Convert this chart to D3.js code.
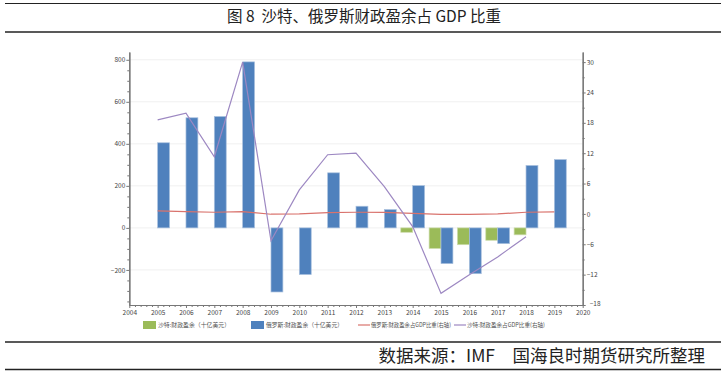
<!DOCTYPE html>
<html>
<head>
<meta charset="utf-8">
<script src="https://cdn.jsdelivr.net/npm/d3@7/dist/d3.min.js"></script>
<style>
  body { margin: 0; background: #fff; }
  svg text { font-family: "Noto Sans CJK SC", "Noto Sans", sans-serif; }
</style>
</head>
<body>
<div id="graphe"></div>
<script>
//----------------------------------------------------------------
// données
var annees = [2005, 2006, 2007, 2008, 2009, 2010, 2011, 2012, 2013, 2014, 2015, 2016, 2017, 2018, 2019];
// solde budgétaire (milliards USD)
var soldeSaoudite = [null, null, null, null, null, null, null, null, null, -21, -98, -80, -59, -33, null];
var soldeRussie = [405, 524, 530, 790, -305, -222, 262, 103, 87, 201, -170, -218, -75, 297, 325];
// solde en % du PIB (axe droit)
var pctRussie = [0.6, 0.45, 0.33, 0.45, -0.06, 0, 0.26, 0.33, 0.3, 0.1, -0.1, -0.1, 0, 0.33, 0.4];
var pctSaoudite = [18.6, 19.9, 11.3, 30.0, -5.3, 4.75, 11.7, 12.0, 5.4, -2.5, -15.7, -12.0, -8.5, -4.5, null];

var ticksGauche = [-200, 0, 200, 400, 600, 800];
var ticksDroite = [-18, -12, -6, 0, 6, 12, 18, 24, 30];
var ticksAnnees = d3.range(2004, 2021);

var titre = "图 8\u00a0\u00a0沙特、俄罗斯财政盈余占 GDP 比重";
var source = "数据来源：IMF　国海良时期货研究所整理";
var legendes = ["沙特:财政盈余（十亿美元）", "俄罗斯:财政盈余（十亿美元）",
                "俄罗斯:财政盈余占GDP比重(右轴)", "沙特:财政盈余占GDP比重(右轴)"];

//----------------------------------------------------------------
// crée le svg
var largeur = 726, hauteur = 375;
var svg = d3.select("#graphe")
  .append("svg")
  .attr("width", largeur)
  .attr("height", hauteur);

var gauche = 129.3, droite = 582.7, haut = 52, bas = 305;

var x = d3.scaleLinear().domain([2004, 2020]).range([gauche, droite]);
var yG = d3.scaleLinear().domain([-367, 837]).range([bas, haut]);
var yD = d3.scaleLinear().domain([-18, 32]).range([bas, haut]);
var pas = x(2005) - x(2004);
var largeurBarre = pas * 0.42;

var couleurVert = "#9bbb59", couleurBleu = "#4f81bd";
var couleurRouge = "#d9736d", couleurViolet = "#9d88c2";

//----------------------------------------------------------------
// titre et filets
svg.append("line").attr("x1", 5).attr("x2", 721).attr("y1", 3.5).attr("y2", 3.5)
  .attr("stroke", "#222").attr("stroke-width", 1.2);
svg.append("line").attr("x1", 5).attr("x2", 721).attr("y1", 32).attr("y2", 32)
  .attr("stroke", "#222").attr("stroke-width", 1.5);
svg.append("text")
  .attr("x", 364).attr("y", 22)
  .attr("text-anchor", "middle")
  .attr("font-size", "15.5px")
  .attr("fill", "#222")
  .text(titre);

svg.append("line").attr("x1", 5).attr("x2", 721).attr("y1", 342).attr("y2", 342)
  .attr("stroke", "#222").attr("stroke-width", 1.3);
svg.append("line").attr("x1", 5).attr("x2", 721).attr("y1", 369.5).attr("y2", 369.5)
  .attr("stroke", "#222").attr("stroke-width", 1.3);
svg.append("text")
  .attr("x", 705).attr("y", 362)
  .attr("text-anchor", "end")
  .attr("font-size", "17.5px")
  .attr("fill", "#222")
  .text(source);

//----------------------------------------------------------------
// grille
svg.append("g").selectAll("line")
  .data(ticksGauche)
  .enter().append("line")
  .attr("x1", gauche).attr("x2", droite)
  .attr("y1", function(d){ return yG(d); })
  .attr("y2", function(d){ return yG(d); })
  .attr("stroke", "#f0f0f0")
  .attr("stroke-width", 1);

//----------------------------------------------------------------
// barres
var donneesBarres = [];
annees.forEach(function(a, i){
  if (soldeSaoudite[i] !== null) donneesBarres.push({annee: a, v: soldeSaoudite[i], pays: "sa"});
  if (soldeRussie[i] !== null) donneesBarres.push({annee: a, v: soldeRussie[i], pays: "ru"});
});

svg.append("g").selectAll("rect")
  .data(donneesBarres)
  .enter().append("rect")
  .attr("x", function(d){ return d.pays == "sa" ? x(d.annee) - largeurBarre : x(d.annee); })
  .attr("width", largeurBarre)
  .attr("y", function(d){ return yG(Math.max(0, d.v)); })
  .attr("height", function(d){ return Math.abs(yG(d.v) - yG(0)); })
  .attr("fill", function(d){ return d.pays == "sa" ? couleurVert : couleurBleu; })
  .attr("stroke", function(d){ return d.pays == "sa" ? "#cddcad" : "#a9c0de"; })
  .attr("stroke-width", 0.7);

//----------------------------------------------------------------
// courbes (axe droit)
var ligne = d3.line()
  .defined(function(d){ return d[1] !== null; })
  .x(function(d){ return x(d[0]); })
  .y(function(d){ return yD(d[1]); });

svg.append("path")
  .datum(annees.map(function(a, i){ return [a, pctRussie[i]]; }))
  .attr("d", ligne)
  .attr("fill", "none")
  .attr("stroke", couleurRouge)
  .attr("stroke-width", 1.2);

svg.append("path")
  .datum(annees.map(function(a, i){ return [a, pctSaoudite[i]]; }))
  .attr("d", ligne)
  .attr("fill", "none")
  .attr("stroke", couleurViolet)
  .attr("stroke-width", 1.2);

//----------------------------------------------------------------
// axes
function styleAxe(g){
  g.selectAll(".domain").attr("stroke", "#777").attr("stroke-width", 1.2);
  g.selectAll(".tick line").attr("stroke", "#777");
  g.selectAll("text").attr("font-size", "6.5px").attr("fill", "#444");
}

var mineursGauche = d3.range(-350, 837, 50).filter(function(v){ return ticksGauche.indexOf(v) < 0; });
svg.append("g").attr("transform", "translate(" + gauche + ",0)")
  .call(d3.axisLeft(yG).tickValues(mineursGauche).tickSize(2).tickFormat("").tickSizeOuter(0))
  .call(styleAxe);
svg.append("g").attr("transform", "translate(" + gauche + ",0)")
  .call(d3.axisLeft(yG).tickValues(ticksGauche).tickSize(3).tickPadding(1).tickSizeOuter(0))
  .call(styleAxe);

var mineursDroite = d3.range(-15, 32, 6);
svg.append("g").attr("transform", "translate(" + droite + ",0)")
  .call(d3.axisRight(yD).tickValues(mineursDroite).tickSize(2).tickFormat("").tickSizeOuter(0))
  .call(styleAxe);
var axeDroit = svg.append("g").attr("transform", "translate(" + droite + ",0)")
  .call(d3.axisRight(yD).tickValues(ticksDroite).tickSize(3).tickPadding(1).tickSizeOuter(0))
  .call(styleAxe);
// le -18 se décale un peu pour ne pas toucher 2020
axeDroit.selectAll(".tick text").filter(function(d){ return d == -18; })
  .attr("x", 7).attr("dy", "0.1em");

var mineursX = d3.range(2004, 2020.01, 0.2).filter(function(v){ return Math.abs(v - Math.round(v)) > 0.01; });
svg.append("g").attr("transform", "translate(0," + bas + ")")
  .call(d3.axisBottom(x).tickValues(mineursX).tickSize(2).tickFormat("").tickSizeOuter(0))
  .call(styleAxe);
svg.append("g").attr("transform", "translate(0," + bas + ")")
  .call(d3.axisBottom(x).tickValues(ticksAnnees).tickSize(3).tickPadding(2.5).tickFormat(d3.format("d")).tickSizeOuter(0))
  .call(styleAxe);

//----------------------------------------------------------------
// légende
var yLeg = 325;
var leg = svg.append("g").attr("font-size", "6px").attr("fill", "#555");

leg.append("rect").attr("x", 143).attr("y", yLeg - 4).attr("width", 13).attr("height", 8).attr("fill", couleurVert);
leg.append("text").attr("x", 158).attr("y", yLeg + 2.2)
  .attr("textLength", 72).attr("lengthAdjust", "spacingAndGlyphs").text(legendes[0]);
leg.append("rect").attr("x", 251).attr("y", yLeg - 4).attr("width", 13).attr("height", 8).attr("fill", couleurBleu);
leg.append("text").attr("x", 266).attr("y", yLeg + 2.2)
  .attr("textLength", 77).attr("lengthAdjust", "spacingAndGlyphs").text(legendes[1]);
leg.append("line").attr("x1", 358).attr("x2", 370).attr("y1", yLeg).attr("y2", yLeg)
  .attr("stroke", couleurRouge).attr("stroke-width", 1.2);
leg.append("text").attr("x", 371).attr("y", yLeg + 2.2)
  .attr("textLength", 80).attr("lengthAdjust", "spacingAndGlyphs").text(legendes[2]);
leg.append("line").attr("x1", 454).attr("x2", 466).attr("y1", yLeg).attr("y2", yLeg)
  .attr("stroke", couleurViolet).attr("stroke-width", 1.2);
leg.append("text").attr("x", 467).attr("y", yLeg + 2.2)
  .attr("textLength", 78).attr("lengthAdjust", "spacingAndGlyphs").text(legendes[3]);
</script>
</body>
</html>
